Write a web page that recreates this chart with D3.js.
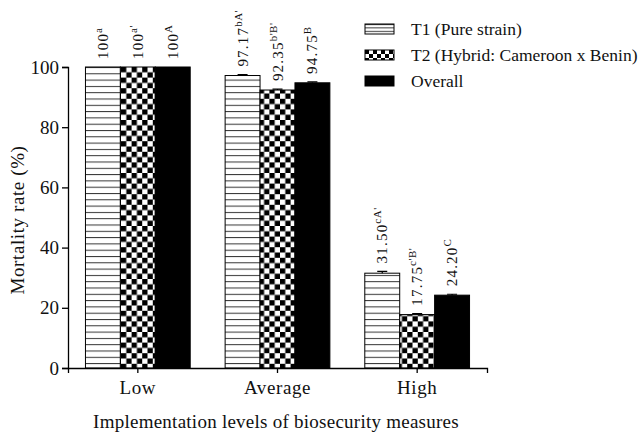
<!DOCTYPE html>
<html>
<head>
<meta charset="utf-8">
<script src="https://cdn.jsdelivr.net/npm/d3@7"></script>
<style>
  body { margin: 0; background: #fff; }
  svg text { font-family: "Liberation Serif", "DejaVu Serif", serif; fill: #111; }
</style>
</head>
<body>
<svg id="chart" width="641" height="437"></svg>
<script>
let categories = ["Low", "Average", "High"];
let seriesNames = ["T1 (Pure strain)", "T2 (Hybrid: Cameroon x Benin)", "Overall"];
let t1Values = [100, 97.17, 31.50];
let t2Values = [100, 92.35, 17.75];
let overallValues = [100, 94.75, 24.20];
let t1Errors = [0, 0.3, 0.6];
let t2Errors = [0, 0.3, 0.3];
let overallErrors = [0, 0.3, 0.3];
let valueLabels = [
    [["100", "a"], ["97.17", "bA'"], ["31.50", "cA'"]],
    [["100", "a'"], ["92.35", "b'B'"], ["17.75", "c'B'"]],
    [["100", "A"], ["94.75", "B"], ["24.20", "C"]]
];
let yTicks = [0, 20, 40, 60, 80, 100];

let series = [t1Values, t2Values, overallValues];
let errors = [t1Errors, t2Errors, overallErrors];
let fills = ["url(#stripes)", "url(#checks)", "#000"];

let svg = d3.select("svg#chart"),
    margin = {top: 67, right: 154, bottom: 69, left: 68},
    width = +svg.attr("width") - margin.left - margin.right,
    height = +svg.attr("height") - margin.top - margin.bottom,
    g = svg.append("g").attr("transform", "translate(" + margin.left + "," + margin.top + ")");

// patterns for the two hatched series
let defs = svg.append("defs");
let stripes = defs.append("pattern")
    .attr("id", "stripes")
    .attr("patternUnits", "userSpaceOnUse")
    .attr("width", 8).attr("height", 6.3);
stripes.append("rect").attr("width", 8).attr("height", 6.3).attr("fill", "#fff");
stripes.append("line")
    .attr("x1", 0).attr("x2", 8).attr("y1", 0.5).attr("y2", 0.5)
    .attr("stroke", "#333").attr("stroke-width", 1);

let checks = defs.append("pattern")
    .attr("id", "checks")
    .attr("patternUnits", "userSpaceOnUse")
    .attr("width", 10.6).attr("height", 10.6);
checks.append("rect").attr("width", 10.6).attr("height", 10.6).attr("fill", "#fff");
checks.append("rect").attr("width", 5.3).attr("height", 5.3).attr("fill", "#000");
checks.append("rect").attr("x", 5.3).attr("y", 5.3).attr("width", 5.3).attr("height", 5.3).attr("fill", "#000");

let legendStripes = defs.append("pattern")
    .attr("id", "legendStripes")
    .attr("patternUnits", "userSpaceOnUse")
    .attr("width", 8).attr("height", 3.4);
legendStripes.append("rect").attr("width", 8).attr("height", 3.4).attr("fill", "#fff");
legendStripes.append("line")
    .attr("x1", 0).attr("x2", 8).attr("y1", 0.5).attr("y2", 0.5)
    .attr("stroke", "#333");

let legendChecks = defs.append("pattern")
    .attr("id", "legendChecks")
    .attr("patternUnits", "userSpaceOnUse")
    .attr("width", 8).attr("height", 8);
legendChecks.append("rect").attr("width", 8).attr("height", 8).attr("fill", "#fff");
legendChecks.append("rect").attr("width", 4).attr("height", 4).attr("fill", "#000");
legendChecks.append("rect").attr("x", 4).attr("y", 4).attr("width", 4).attr("height", 4).attr("fill", "#000");

let x = d3.scaleBand()
    .domain(categories)
    .range([0, width])
    .paddingInner(0.25)
    .paddingOuter(0.125);
let xs = d3.scaleBand()
    .domain(d3.range(series.length))
    .range([0, x.bandwidth()]);
let y = d3.scaleLinear()
    .domain([0, 100])
    .range([height, 0]);

// bars
series.forEach(function(vals, s) {
    g.append("g")
        .selectAll("rect")
        .data(vals)
        .join("rect")
        .attr("x", function(d, i) { return x(categories[i]) + xs(s); })
        .attr("y", function(d) { return y(d); })
        .attr("width", xs.bandwidth())
        .attr("height", function(d) { return y(0) - y(d); })
        .attr("fill", fills[s])
        .attr("stroke", "#000")
        .attr("stroke-width", 1);

    // small error bars
    g.append("g")
        .selectAll("path")
        .data(vals)
        .join("path")
        .attr("d", function(d, i) {
            let cx = x(categories[i]) + xs(s) + xs.bandwidth() / 2,
                e = errors[s][i];
            if (!e) return null;
            return "M" + (cx - 5) + "," + y(d + e) + "H" + (cx + 5) +
                "M" + cx + "," + y(d + e) + "V" + y(d);
        })
        .attr("stroke", "#000")
        .attr("stroke-width", 1.2)
        .attr("fill", "none");

    // rotated value labels with superscript letters
    let lbl = g.append("g")
        .selectAll("text")
        .data(vals)
        .join("text")
        .attr("transform", function(d, i) {
            let cx = x(categories[i]) + xs(s) + xs.bandwidth() / 2;
            return "translate(" + (cx + 5) + "," + (y(d + errors[s][i]) - 8) + ") rotate(-90)";
        })
        .attr("font-size", 15)
        .attr("letter-spacing", 1.2)
        .attr("text-anchor", "start");
    lbl.append("tspan").text(function(d, i) { return valueLabels[s][i][0]; });
    lbl.append("tspan")
        .attr("font-size", 11)
        .attr("letter-spacing", 0.5)
        .attr("dy", -6)
        .text(function(d, i) { return valueLabels[s][i][1]; });
});

// axes
let xAxis = g.append("g")
    .attr("transform", "translate(0," + height + ")")
    .call(d3.axisBottom(x).tickSize(5).tickPadding(8));
xAxis.selectAll("text").attr("font-size", 19).attr("letter-spacing", 0.6).attr("fill", "#111");

let yAxis = g.append("g")
    .call(d3.axisLeft(y).tickValues(yTicks).tickSize(6).tickPadding(3));
yAxis.selectAll("text").attr("font-size", 19).attr("fill", "#111");

svg.selectAll(".domain, .tick line").attr("stroke", "#000").attr("stroke-width", 1.3);
svg.selectAll(".tick text").attr("font-family", "Liberation Serif, serif");

// axis titles
svg.append("text")
    .attr("transform", "translate(24," + 220 + ") rotate(-90)")
    .attr("text-anchor", "middle")
    .attr("font-size", 19)
    .attr("letter-spacing", 0.6)
    .text("Mortality rate (%)");

svg.append("text")
    .attr("x", 276)
    .attr("y", 428)
    .attr("text-anchor", "middle")
    .attr("font-size", 19)
    .attr("letter-spacing", 0.25)
    .text("Implementation levels of biosecurity measures");

// legend
let legendFills = ["url(#legendStripes)", "url(#legendChecks)", "#000"];
let legend = svg.append("g")
    .attr("transform", "translate(365,24)")
    .selectAll("g")
    .data(seriesNames)
    .join("g")
    .attr("transform", function(d, i) { return "translate(0," + (i * 26) + ")"; });
legend.append("rect")
    .attr("width", 29)
    .attr("height", 10)
    .attr("fill", function(d, i) { return legendFills[i]; })
    .attr("stroke", "#000");
legend.append("text")
    .attr("x", 46)
    .attr("y", 5)
    .attr("dy", "0.35em")
    .attr("font-size", 17.5)
    .text(function(d) { return d; });
</script>
</body>
</html>
